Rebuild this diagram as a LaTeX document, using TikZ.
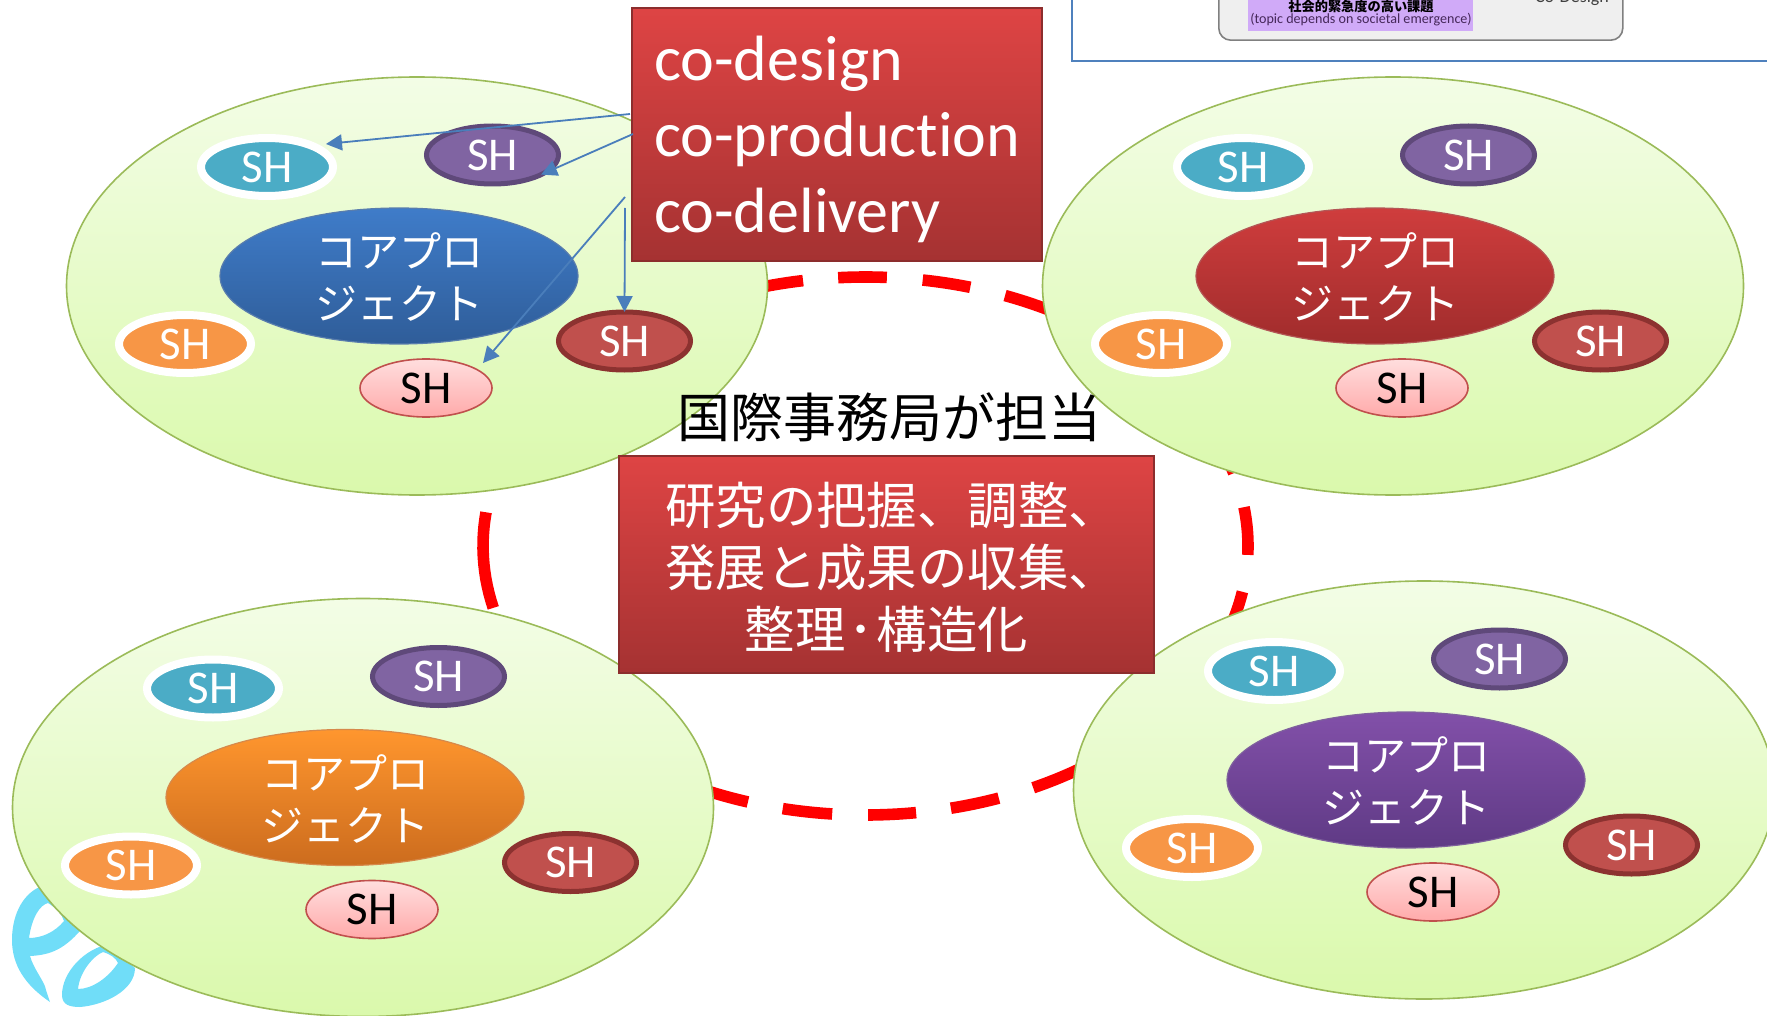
\documentclass[tikz,border=0pt]{standalone}
\usepackage{fontspec}
\setmainfont{Carlito}
\newfontfamily\cjk{Noto Sans CJK JP}
\usetikzlibrary{shapes.geometric,arrows.meta}
\definecolor{grnline}{HTML}{9BBB59}
\definecolor{arrowblue}{HTML}{4A7EBB}
\tikzset{
  blob/.style={ellipse,inner sep=0pt,outer sep=0pt,minimum width=350.5pt,minimum height=209pt,draw=grnline,line width=0.8pt,top color={rgb,255:red,243;green,253;blue,230},bottom color={rgb,255:red,218;green,249;blue,172}},
  sh/.style={ellipse,inner sep=0pt,outer sep=0pt,text=white,font=\fontsize{23.5}{26}\selectfont},
  shteal/.style={sh,minimum width=66pt,minimum height=29pt,fill={rgb,255:red,75;green,172;blue,198},draw=white,line width=4pt},
  shorange/.style={sh,minimum width=66pt,minimum height=29pt,fill={rgb,255:red,247;green,150;blue,70},draw=white,line width=4pt},
  shpurple/.style={sh,minimum width=66pt,minimum height=29pt,fill={rgb,255:red,128;green,100;blue,162},draw={rgb,255:red,95;green,73;blue,122},line width=2.5pt},
  shred/.style={sh,minimum width=66pt,minimum height=29pt,fill={rgb,255:red,192;green,80;blue,77},draw={rgb,255:red,140;green,50;blue,48},line width=2.5pt},
  shpink/.style={sh,text=black,minimum width=66pt,minimum height=29pt,top color={rgb,255:red,255;green,222;blue,222},bottom color={rgb,255:red,255;green,170;blue,170},draw={rgb,255:red,192;green,80;blue,77},line width=0.8pt},
  core/.style={ellipse,inner sep=0pt,outer sep=0pt,minimum width=179pt,minimum height=68pt,text=white,align=center,font=\cjk\fontsize{21}{26}\selectfont},
  redbox/.style={rectangle,inner sep=0pt,outer sep=0pt,top color={rgb,255:red,222;green,68;blue,68},bottom color={rgb,255:red,165;green,50;blue,50},draw={rgb,255:red,140;green,45;blue,45},line width=0.8pt,text=white},
  conn/.style={draw=arrowblue,line width=0.9pt,-{Triangle[length=8pt,width=8pt]}},
  ringdash/.style={draw=red,line width=5.8pt,line cap=butt},
  logo/.style={fill={rgb,255:red,112;green,221;blue,248},even odd rule}
}
\newcommand{\cluster}[4]{%
\begin{scope}[shift={(#1)},name prefix=#2-]
  \node[blob] (blob) at (0,0) {};
  \node[shteal] (teal) at (-150,-119) {SH};
  \node[shpurple] (purple) at (75.5,-131) {SH};
  \node[core,top color=#3,bottom color=#4,draw=#4!80!white,line width=0.6pt] (core) at (-18,-10) {\rule{0pt}{18.75pt}コアプロ\\ジェクト};
  \node[shorange] (orange) at (-232,58) {SH};
  \node[shred] (red) at (207.5,55) {SH};
  \node[shpink] (pink) at (9,102) {SH};
\end{scope}}
\definecolor{c1a}{HTML}{3F7CC9}\definecolor{c1b}{HTML}{2F5D99}
\definecolor{c2a}{HTML}{CF3D3D}\definecolor{c2b}{HTML}{A02C2C}
\definecolor{c3a}{HTML}{FF962E}\definecolor{c3b}{HTML}{CC6C1E}
\definecolor{c4a}{HTML}{8250A9}\definecolor{c4b}{HTML}{5F3A85}
\begin{document}
\begin{tikzpicture}[x=0.5pt,y=-0.5pt]
\useasboundingbox (0,0) rectangle (1767,1016);
\clip (0,0) rectangle (1767,1016);
% top-right fragment
\node[rectangle,draw={rgb,255:red,79;green,129;blue,189},line width=1pt,minimum width=400pt,minimum height=50pt,anchor=south west,inner sep=0pt,outer sep=0pt] (frame) at (1072,61) {};
\node[rectangle,rounded corners=6pt,draw=gray,fill={rgb,255:red,239;green,239;blue,239},line width=0.8pt,minimum width=202pt,minimum height=50pt,anchor=south west,inner sep=0pt] (gray) at (1218,41) {};
\node[rectangle,fill={rgb,255:red,208;green,170;blue,248},minimum width=112.5pt,minimum height=30pt,anchor=south west,inner sep=0pt] (purplelabel) at (1248,31) {};
\node[font=\cjk\bfseries\fontsize{6.6}{7}\selectfont,inner sep=0pt] (jlabel) at (1361,7) {社会的緊急度の高い課題};
\node[font=\fontsize{7.05}{8}\selectfont,text={rgb,255:red,70;green,40;blue,90},inner sep=0pt] (elabel) at (1361,20) {(topic depends on societal emergence)};
\node[font=\fontsize{9}{10}\selectfont,text=black!75,inner sep=0pt] (codesign) at (1572,-2) {Co-Design};
% dashed ring, dash by dash
\foreach \ta/\tb in {-109.2/-99.4,-94.1/-86.8,-81.4/-74.1,-68.6/-59.4,-25/-15.7,-8.3/1.9,9.8/20,55/64,69.6/77.1,82.4/89.6,95/102.5,107.9/117.3,166.7/187.2}{
  \draw[ringdash] plot[domain=\ta:\tb,samples=14] ({865.5+382.5*cos(\x)},{546+269*sin(\x)});
}
% logo
\path[logo] (50,1002) .. controls (25,985) and (12,965) .. (12,940) .. controls (12,912) and (25,892) .. (42,886) -- (85,925) .. controls (65,950) and (50,955) .. (30,956) .. controls (34,970) and (45,982) .. (46,990) -- cycle
 (29,938) .. controls (32,917) and (40,905) .. (48,903) .. controls (56,908) and (62,914) .. (64,921) .. controls (55,932) and (42,938) .. (29,938) -- cycle;
\path[logo] (110,944) .. controls (85,948) and (62,972) .. (62,995) .. controls (62,1005) and (70,1007) .. (80,1007) .. controls (105,1005) and (135,990) .. (135,968) -- cycle
 (78,989) .. controls (80,970) and (95,955) .. (103,952) .. controls (110,954) and (116,958) .. (118,963) .. controls (108,978) and (92,989) .. (78,989) -- cycle;
% clusters
\cluster{417,286}{tl}{c1a}{c1b}
\cluster{1393,286}{tr}{c2a}{c2b}
\cluster{363,807.5}{bl}{c3a}{c3b}
\cluster{1424,790}{br}{c4a}{c4b}
% boxes
\node[redbox,minimum width=205pt,minimum height=126.5pt,anchor=north west,align=left,font=\fontsize{32}{38}\selectfont,text width=205pt] (codes) at (632,8) {\hspace*{11pt}\rule{0pt}{27pt}co-design\\\hspace*{11pt}co-product\kern0pt ion\\\hspace*{11pt}co-delivery};
\node[redbox,minimum width=267.5pt,minimum height=108.5pt,anchor=north west,align=center,font=\cjk\fontsize{25.2}{31}\selectfont] (work) at (619,456) {\rule{0pt}{24pt}\hspace*{5.6pt}研究の把握、調整、\\\hspace*{5.6pt}発展と成果の収集、\\整理\hspace{1.5pt}･\hspace{1.5pt}構造化};
\node[font=\cjk\fontsize{26.5}{30}\selectfont,inner sep=0pt] (title) at (889,417) {国際事務局が担当};
% arrows
\coordinate (s1) at (630,114);
\coordinate (s2) at (633,134);
\coordinate (s3) at (625,197);
\coordinate (s4) at (625,208);
\path (tl-teal.center) ++(59,-23) coordinate (t1);
\path (tl-pink.center) ++(57,-25) coordinate (t3);
\draw[conn] (s1) -- (t1);
\draw[conn] (s2) -- (tl-purple.-22);
\draw[conn] (s3) -- (t3);
\draw[conn] (s4) -- (tl-red.north);
\end{tikzpicture}
\end{document}
